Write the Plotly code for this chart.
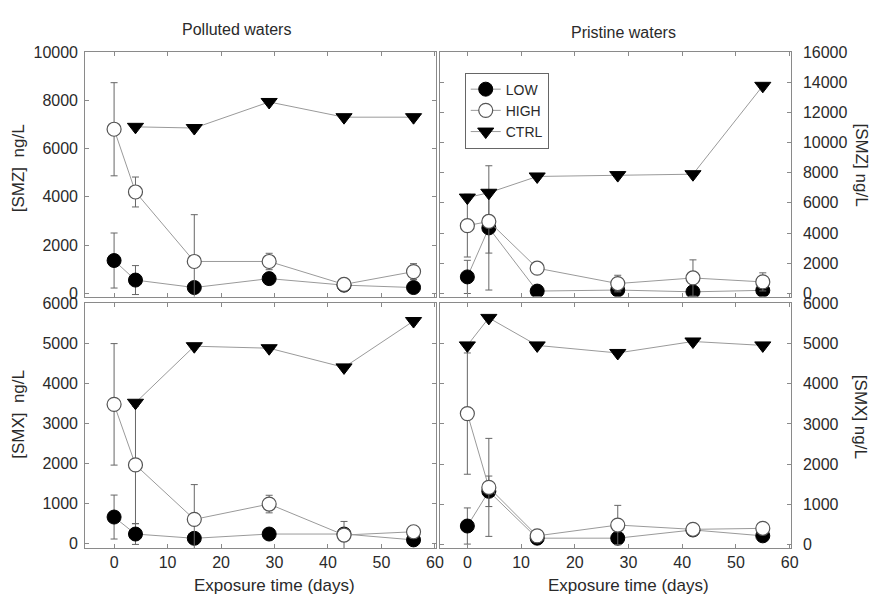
import plotly.graph_objects as go

# ---------------- data ----------------
days_polluted = [0, 4, 15, 29, 43, 56]
days_pristine = [0, 4, 13, 28, 42, 55]

# SMZ, polluted waters
smz_pol_low = [1360, 550, 240, 610, 340, 240]
smz_pol_low_err = [1140, 600, 0, 0, 0, 0]
smz_pol_high = [6800, 4200, 1320, 1320, 370, 900]
smz_pol_high_err = [1930, 620, 1940, 340, 200, 330]
smz_pol_ctrl = [None, 6900, 6850, 7930, 7300, 7300]

# SMZ, pristine waters
smz_pri_low = [1090, 4340, 150, 220, 100, 200]
smz_pri_low_err = [1100, 4120, 0, 0, 0, 0]
smz_pri_high = [4490, 4770, 1670, 650, 1020, 760]
smz_pri_high_err = [2080, 2100, 300, 550, 1200, 600]
smz_pri_ctrl = [6350, 6670, 7750, 7840, 7900, 13760]

# SMX, polluted waters
smx_pol_low = [655, 230, 123, 230, 230, 83]
smx_pol_low_err = [550, 260, 0, 0, 0, 0]
smx_pol_high = [3475, 1960, 597, 980, 205, 287]
smx_pol_high_err = [1520, 1470, 870, 220, 340, 0]
smx_pol_ctrl = [None, 3515, 4930, 4880, 4400, 5560]

# SMX, pristine waters
smx_pri_low = [458, 1322, 155, 155, 360, 213]
smx_pri_low_err = [450, 380, 0, 0, 0, 0]
smx_pri_high = [3257, 1420, 213, 482, 375, 400]
smx_pri_high_err = [1510, 1220, 0, 490, 0, 0]
smx_pri_ctrl = [4955, 5640, 4955, 4767, 5053, 4955]

series_names = ["LOW", "HIGH", "CTRL"]
x_ticks = [0, 10, 20, 30, 40, 50, 60]

# ---------------- styles ----------------
FONT = "Liberation Sans, Arial, sans-serif"
TXT = "#2a2a2a"
LINE_C = "#9a9a9a"
AX_C = "#8a8a8a"

styles = {
    "LOW": dict(symbol="circle", size=14, color="black", line=dict(color="black", width=1)),
    "HIGH": dict(symbol="circle", size=14, color="white", line=dict(color="#555555", width=1.2)),
    "CTRL": dict(symbol="triangle-down", size=14, color="black", line=dict(color="black", width=1)),
}

fig = go.Figure()


def add(xa, ya, x, y, err, name, legend):
    kw = {}
    if err is not None:
        kw["error_y"] = dict(type="data", array=err, symmetric=True, color="#666666",
                             thickness=1, width=3.5)
    fig.add_trace(go.Scatter(
        x=x, y=y, mode="lines+markers", name=name, showlegend=legend,
        xaxis=xa, yaxis=ya, line=dict(color=LINE_C, width=1),
        marker=styles[name], legendgroup=name, **kw))


panels = [
    ("x", "y", days_polluted, smz_pol_low, smz_pol_low_err, smz_pol_high, smz_pol_high_err, smz_pol_ctrl, False),
    ("x2", "y2", days_pristine, smz_pri_low, smz_pri_low_err, smz_pri_high, smz_pri_high_err, smz_pri_ctrl, True),
    ("x3", "y3", days_polluted, smx_pol_low, smx_pol_low_err, smx_pol_high, smx_pol_high_err, smx_pol_ctrl, False),
    ("x4", "y4", days_pristine, smx_pri_low, smx_pri_low_err, smx_pri_high, smx_pri_high_err, smx_pri_ctrl, False),
]
for xa, ya, d, lo, loe, hi, hie, ct, leg in panels:
    add(xa, ya, d, lo, loe, "LOW", leg)
    add(xa, ya, d, hi, hie, "HIGH", leg)
    add(xa, ya, d, ct, None, "CTRL", leg)

W, H = 878, 599
xl = [86 / W, 440 / W]
xr = [444 / W, 798 / W]
yt = [1 - 295 / H, 1 - 45 / H]
yb = [1 - 552 / H, 1 - 302 / H]

tickfont = dict(family=FONT, size=16, color=TXT)


def xax(domain, anchor, rng, labels):
    return dict(domain=domain, anchor=anchor, range=rng, tickvals=x_ticks,
                showticklabels=labels, ticks="inside", ticklen=4, tickcolor=AX_C,
                mirror="ticks", showline=True, linecolor=AX_C, linewidth=1,
                showgrid=False, zeroline=False, tickfont=tickfont, tickformat="d")


def yax(domain, anchor, rng, dtick, side, top):
    return dict(domain=domain, anchor=anchor, range=rng,
                tickvals=list(range(0, top + 1, dtick)), side=side,
                ticks="inside", ticklen=4, tickcolor=AX_C, mirror="ticks",
                showline=True, linecolor=AX_C, linewidth=1, showgrid=False,
                zeroline=False, tickfont=tickfont, tickformat="d",
                ticklabelstandoff=(8 if side == "right" else 3))


fig.update_layout(
    width=W, height=H, autosize=False,
    margin=dict(l=0, r=0, t=0, b=0),
    paper_bgcolor="white", plot_bgcolor="white",
    font=dict(family=FONT, color=TXT),
    xaxis=xax(xl, "y", [-5.4, 60.2], False),
    yaxis=yax(yt, "x", [-135, 10000], 2000, "left", 10000),
    xaxis2=xax(xr, "y2", [-5.1, 60.2], False),
    yaxis2=yax(yt, "x2", [-215, 16000], 2000, "right", 16000),
    xaxis3=xax(xl, "y3", [-5.4, 60.2], True),
    yaxis3=yax(yb, "x3", [-120, 6000], 1000, "left", 6000),
    xaxis4=xax(xr, "y4", [-5.1, 60.2], True),
    yaxis4=yax(yb, "x4", [-90, 6000], 1000, "right", 6000),
    legend=dict(x=469 / W, y=1 - 66 / H, xanchor="left", yanchor="top",
                bgcolor="white", bordercolor="#666666", borderwidth=1,
                font=dict(family=FONT, size=14, color=TXT), tracegroupgap=0),
)

ann = [
    dict(text="Polluted waters", x=239 / W, y=1 - 22 / H, xref="paper", yref="paper",
         font=dict(size=16)),
    dict(text="Pristine waters", x=629 / W, y=1 - 25 / H, xref="paper", yref="paper",
         font=dict(size=16)),
    dict(text="[SMZ]  ng/L", x=19 / W, y=1 - 164 / H, xref="paper", yref="paper",
         textangle=-90, font=dict(size=17)),
    dict(text="[SMX]  ng/L", x=19 / W, y=1 - 415 / H, xref="paper", yref="paper",
         textangle=-90, font=dict(size=17)),
    dict(text="[SMZ] ng/L", x=869 / W, y=1 - 160 / H, xref="paper", yref="paper",
         textangle=90, font=dict(size=17)),
    dict(text="[SMX] ng/L", x=868 / W, y=1 - 418 / H, xref="paper", yref="paper",
         textangle=90, font=dict(size=17)),
    dict(text="Exposure time (days)", x=30, xref="x3", y=1 - 590 / H, yref="paper",
         font=dict(size=17)),
    dict(text="Exposure time (days)", x=30, xref="x4", y=1 - 590 / H, yref="paper",
         font=dict(size=17)),
]
for a in ann:
    a.update(showarrow=False, xanchor="center", yanchor="middle")
    a["font"].update(family=FONT, color=TXT)
fig.update_layout(annotations=ann)

fig.write_html("out.html")
